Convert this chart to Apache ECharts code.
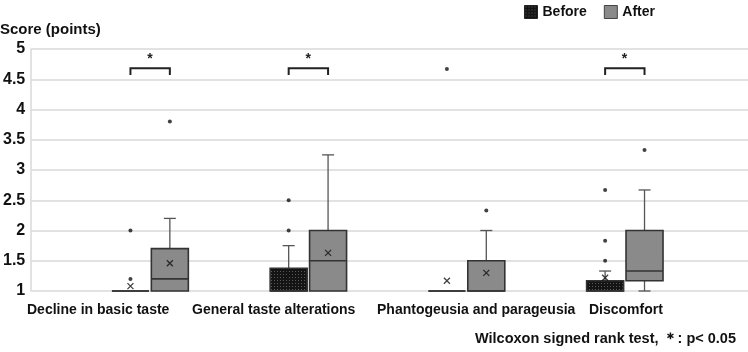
<!DOCTYPE html>
<html>
<head>
<meta charset="utf-8">
<script src="https://cdn.jsdelivr.net/npm/echarts@6/dist/echarts.min.js"></script>
<style>
    html, body { margin: 0; padding: 0; background: #fff; }
    #chart { width: 748px; height: 352px; }
</style>
</head>
<body>
<div id="chart"></div>
<script>
    // categories and values
    var categories = ['Decline in basic taste', 'General taste alterations', 'Phantogeusia and parageusia', 'Discomfort'];
    // [min, Q1, median, Q3, max]
    var beforeBox = [[1, 1, 1, 1, 1], [1, 1, 1, 1.375, 1.75], [1, 1, 1, 1, 1], [1, 1, 1, 1.17, 1.33]];
    var afterBox = [[1, 1, 1.2, 1.7, 2.2], [1, 1, 1.5, 2, 3.25], [1, 1, 1, 1.5, 2], [1, 1.17, 1.33, 2, 2.67]];
    var beforeMean = [1.08, 1.27, 1.17, 1.22];
    var afterMean = [1.46, 1.63, 1.3, null];
    // [category index, value]
    var beforeOutliers = [[0, 1.2], [0, 2], [1, 2], [1, 2.5], [2, 4.67], [3, 1.5], [3, 1.83], [3, 2.67]];
    var afterOutliers = [[0, 3.8], [2, 2.33], [3, 3.33]];
    var sigCats = [0, 1, 3];

    var OFF_B = -0.123, OFF_A = 0.126;   // group offsets in category units
    var BOX_W = 37, CAP_W = 12;

    // dotted dark fill for "Before"
    var pc = document.createElement('canvas');
    pc.width = 3; pc.height = 3;
    var pctx = pc.getContext('2d');
    pctx.fillStyle = '#141414'; pctx.fillRect(0, 0, 3, 3);
    pctx.fillStyle = '#5a5a5a'; pctx.fillRect(1, 1, 1, 1);
    var beforeFill = { image: pc, repeat: 'repeat' };
    var afterFill = '#8a8a8a';

    function boxData(arr, off) {
        return arr.map(function (b, i) { return [i + off].concat(b); });
    }
    function pointData(arr, off) {
        return arr.map(function (p) { return [p[0] + off, p[1]]; });
    }
    function meanData(arr, off) {
        var out = [];
        arr.forEach(function (v, i) { if (v != null) out.push([i + off, v]); });
        return out;
    }

    function makeBoxRender(fill) {
        return function (params, api) {
            var x = api.value(0);
            var lo = api.coord([x, api.value(1)]);
            var q1 = api.coord([x, api.value(2)]);
            var md = api.coord([x, api.value(3)]);
            var q3 = api.coord([x, api.value(4)]);
            var hi = api.coord([x, api.value(5)]);
            var cx = lo[0];
            var wl = { stroke: '#555', lineWidth: 1.3 };
            var ch = [];
            if (hi[1] < q3[1]) {
                ch.push({ type: 'line', shape: { x1: cx, y1: q3[1], x2: cx, y2: hi[1] }, style: wl });
                ch.push({ type: 'line', shape: { x1: cx - CAP_W / 2, y1: hi[1], x2: cx + CAP_W / 2, y2: hi[1] }, style: wl });
            }
            if (lo[1] > q1[1]) {
                ch.push({ type: 'line', shape: { x1: cx, y1: q1[1], x2: cx, y2: lo[1] }, style: wl });
                ch.push({ type: 'line', shape: { x1: cx - CAP_W / 2, y1: lo[1], x2: cx + CAP_W / 2, y2: lo[1] }, style: wl });
            }
            ch.push({
                type: 'rect',
                shape: { x: cx - BOX_W / 2, y: q3[1], width: BOX_W, height: q1[1] - q3[1] },
                style: { fill: fill, stroke: '#333', lineWidth: 1.6 }
            });
            ch.push({ type: 'line', shape: { x1: cx - BOX_W / 2, y1: md[1], x2: cx + BOX_W / 2, y2: md[1] }, style: { stroke: '#333', lineWidth: 1.6 } });
            return { type: 'group', children: ch };
        };
    }

    function sigRender(params, api) {
        var c = api.value(0);
        var l = api.coord([c + OFF_B, 4.68]);
        var r = api.coord([c + OFF_A, 4.68]);
        var b = api.coord([c, 4.57]);
        var s = api.coord([c, 4.88]);
        return {
            type: 'group',
            children: [
                { type: 'polyline', shape: { points: [[l[0], b[1]], [l[0], l[1]], [r[0], r[1]], [r[0], b[1]]] }, style: { stroke: '#222', lineWidth: 2, fill: null } },
                { type: 'text', x: s[0], y: s[1] + 3, style: { text: '*', fill: '#222', font: 'bold 14px "Liberation Sans"', align: 'center', verticalAlign: 'middle' } }
            ]
        };
    }

    var chart = echarts.init(document.getElementById('chart'));
    var FONT = '"Liberation Sans", Arial, sans-serif';
    var op = {
        backgroundColor: '#ffffff',
        animation: false,
        textStyle: { fontFamily: FONT },
        grid: { left: 30, right: 0, top: 49, bottom: 61 },
        legend: {
            right: 88, top: 0,
            icon: 'rect', itemWidth: 13, itemHeight: 13, itemGap: 17,
            textStyle: { fontSize: 14, fontWeight: 'bold', color: '#111', fontFamily: FONT },
            data: [
                { name: 'Before', itemStyle: { color: beforeFill, borderColor: '#222', borderWidth: 1 } },
                { name: 'After', itemStyle: { color: afterFill, borderColor: '#444', borderWidth: 1 } }
            ]
        },
        xAxis: { type: 'value', min: -0.75, max: 3.78, show: false },
        yAxis: {
            type: 'value', min: 1, max: 5, interval: 0.5,
            axisLine: { show: true, onZero: false, lineStyle: { color: '#d9d9d9', width: 1.5 } },
            axisTick: { show: false },
            axisLabel: { fontSize: 16, fontWeight: 'bold', color: '#111', margin: 6 },
            splitLine: { lineStyle: { color: '#d9d9d9', width: 1.5 } }
        },
        graphic: [],
        series: [
            { name: 'Before', type: 'custom', renderItem: makeBoxRender(beforeFill), itemStyle: { color: beforeFill }, data: boxData(beforeBox, OFF_B), z: 2 },
            { name: 'After', type: 'custom', renderItem: makeBoxRender(afterFill), itemStyle: { color: afterFill }, data: boxData(afterBox, OFF_A), z: 2 },
            { type: 'scatter', symbol: 'circle', symbolSize: 4, itemStyle: { color: '#111' }, data: pointData(beforeOutliers, OFF_B).concat(pointData(afterOutliers, OFF_A)), z: 3 },
            {
                type: 'scatter', symbol: 'path://M0,0L10,10M10,0L0,10', symbolSize: 6,
                itemStyle: { color: 'none', borderColor: '#111', borderWidth: 1.3 },
                data: meanData(beforeMean, OFF_B).concat(meanData(afterMean, OFF_A)), z: 4
            },
            { type: 'custom', renderItem: sigRender, data: sigCats.map(function (c) { return [c]; }), z: 5 }
        ]
    };

    // axis title, category labels and footnote
    op.graphic.push({ type: 'text', left: 0, top: 22, style: { text: 'Score (points)', font: 'bold 15px ' + FONT, fill: '#111' } });
    var labelLeft = [27, 192, 377, 589];
    categories.forEach(function (c, i) {
        op.graphic.push({ type: 'text', left: labelLeft[i], top: 303, style: { text: c, font: 'bold 14px ' + FONT, fill: '#111' } });
    });
    op.graphic.push({ type: 'text', right: 12, top: 331, style: { text: 'Wilcoxon signed rank test, ＊: p< 0.05', font: 'bold 14.5px ' + FONT, fill: '#111' } });

    chart.setOption(op);
</script>
</body>
</html>
